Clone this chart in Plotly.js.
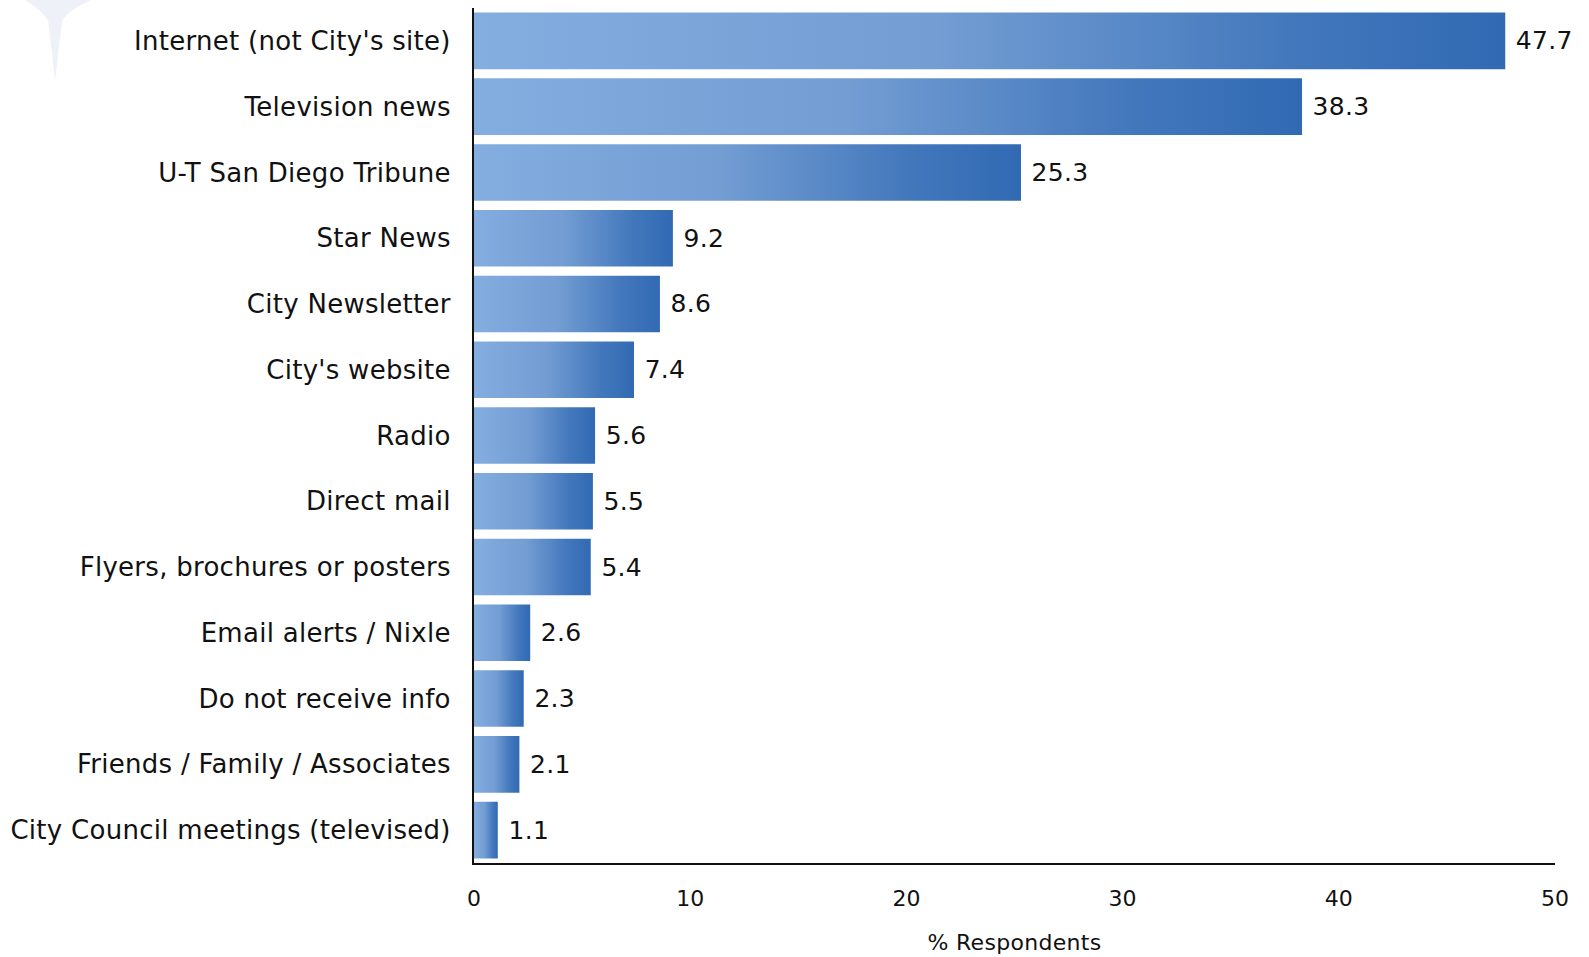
<!DOCTYPE html>
<html>
<head>
<meta charset="utf-8">
<script src="https://cdn.plot.ly/plotly-3.0.1.min.js"></script>
<style>
  html, body { margin: 0; padding: 0; background: #fff; }
  #chart { width: 1589px; height: 957px; }
  #chart .ytick text { letter-spacing: 0.28px; }
  #chart .xtitle, #chart .bartext { letter-spacing: 0.3px; }
</style>
</head>
<body>
<div id="chart"></div>
<script>
const categories = [
  "Internet (not City's site)",
  "Television news",
  "U-T San Diego Tribune",
  "Star News",
  "City Newsletter",
  "City's website",
  "Radio",
  "Direct mail",
  "Flyers, brochures or posters",
  "Email alerts / Nixle",
  "Do not receive info",
  "Friends / Family / Associates",
  "City Council meetings (televised)"
];
const values = [47.7, 38.3, 25.3, 9.2, 8.6, 7.4, 5.6, 5.5, 5.4, 2.6, 2.3, 2.1, 1.1];
const xTickValues = [0, 10, 20, 30, 40, 50];

const FONT = "DejaVu Sans, Verdana, sans-serif";

const trace = {
  type: 'bar',
  orientation: 'h',
  x: values,
  y: categories,
  marker: { color: '#5a86c6', line: { width: 0 } },
  text: values.map(v => v.toFixed(1)),
  texttemplate: ' %{text}',
  textposition: 'outside',
  cliponaxis: false,
  textfont: { family: FONT, size: 25, color: '#111' },
  hoverinfo: 'skip'
};

const layout = {
  width: 1589,
  height: 957,
  margin: { l: 474, r: 34, t: 8, b: 94 },
  paper_bgcolor: '#ffffff',
  plot_bgcolor: '#ffffff',
  showlegend: false,
  bargap: 0.14,
  font: { family: FONT, color: '#111' },
  xaxis: {
    range: [0, 50],
    tickvals: xTickValues,
    ticktext: xTickValues.map(String),
    showgrid: false,
    zeroline: false,
    showline: true,
    linecolor: '#111',
    linewidth: 2,
    ticks: '',
    ticklabelstandoff: 15,
    tickfont: { family: FONT, size: 22, color: '#111' },
    title: { text: '% Respondents', font: { family: FONT, size: 22, color: '#111' }, standoff: 24 },
    fixedrange: true
  },
  yaxis: {
    type: 'category',
    autorange: 'reversed',
    showgrid: false,
    zeroline: false,
    showline: true,
    linecolor: '#111',
    linewidth: 2,
    ticks: '',
    ticklabelstandoff: 16,
    tickfont: { family: FONT, size: 26, color: '#111' },
    fixedrange: true
  },
  shapes: [{
    type: 'path',
    xref: 'paper', yref: 'paper',
    path: 'M -0.43,1.02 Q -0.40,1.0 -0.394,0.985 L -0.3875,0.915 L -0.381,0.985 Q -0.375,1.0 -0.335,1.02 Z',
    fillcolor: '#eef2f8',
    line: { width: 0 },
    layer: 'below'
  }]
};

Plotly.newPlot('chart', [trace], layout, { displayModeBar: false, staticPlot: true }).then(gd => {
  const svg = gd.querySelector('.main-svg');
  const ns = 'http://www.w3.org/2000/svg';
  let defs = svg.querySelector('defs');
  if (!defs) { defs = document.createElementNS(ns, 'defs'); svg.insertBefore(defs, svg.firstChild); }
  const grad = document.createElementNS(ns, 'linearGradient');
  grad.setAttribute('id', 'barGrad');
  grad.setAttribute('x1', '0'); grad.setAttribute('y1', '0');
  grad.setAttribute('x2', '1'); grad.setAttribute('y2', '0');
  [['0', '#84aee0'], ['0.45', '#739dd3'], ['0.8', '#4277bc'], ['1', '#316ab3']].forEach(([o, c]) => {
    const s = document.createElementNS(ns, 'stop');
    s.setAttribute('offset', o); s.setAttribute('stop-color', c);
    grad.appendChild(s);
  });
  defs.appendChild(grad);
  gd.querySelectorAll('.bars .point path').forEach(p => { p.style.fill = 'url(#barGrad)'; p.style.fillOpacity = 1; });
});
</script>
</body>
</html>
